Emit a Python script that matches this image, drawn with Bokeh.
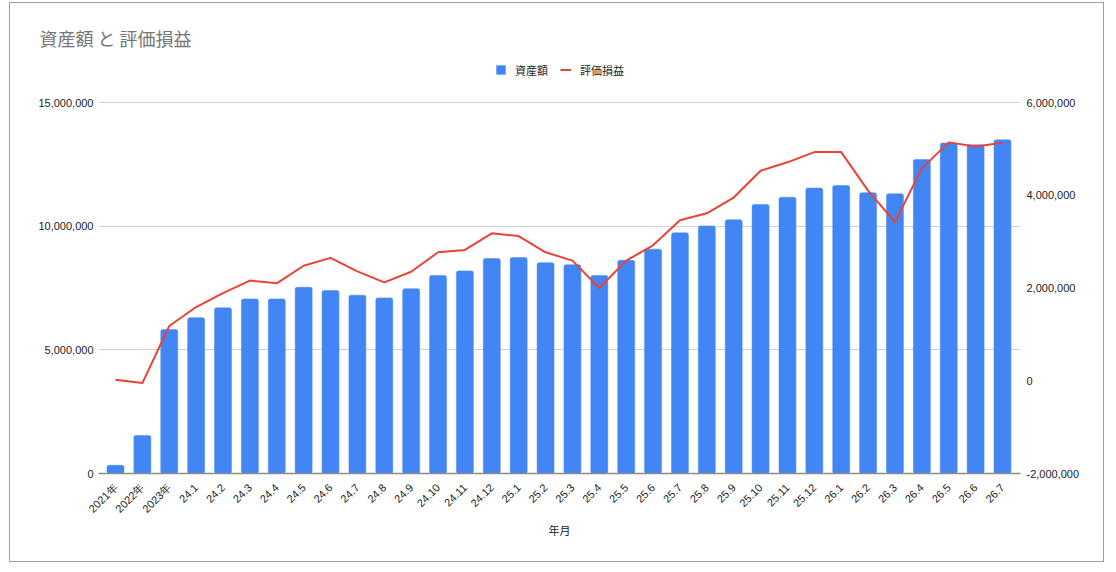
import math
from bokeh.plotting import figure
from bokeh.models import (Range1d, LinearAxis, FixedTicker, NumeralTickFormatter,
                          Legend, LegendItem, ColumnDataSource)
from bokeh.embed import file_html
from bokeh.resources import INLINE

categories = ["2021年", "2022年", "2023年",
              "24.1", "24.2", "24.3", "24.4", "24.5", "24.6", "24.7", "24.8", "24.9", "24.10", "24.11", "24.12",
              "25.1", "25.2", "25.3", "25.4", "25.5", "25.6", "25.7", "25.8", "25.9", "25.10", "25.11", "25.12",
              "26.1", "26.2", "26.3", "26.4", "26.5", "26.6", "26.7"]

assets = [330000, 1540000, 5820000,
          6300000, 6700000, 7060000, 7060000, 7530000, 7400000, 7210000, 7100000, 7470000, 8010000, 8190000, 8690000,
          8730000, 8520000, 8440000, 8010000, 8620000, 9070000, 9730000, 10010000, 10260000, 10880000, 11170000, 11540000,
          11640000, 11350000, 11310000, 12700000, 13360000, 13290000, 13490000]

pnl = [20000, -50000, 1180000,
       1590000, 1890000, 2160000, 2100000, 2480000, 2650000, 2360000, 2120000, 2350000, 2770000, 2820000, 3180000,
       3120000, 2770000, 2590000, 2000000, 2590000, 2920000, 3460000, 3610000, 3950000, 4530000, 4710000, 4930000,
       4930000, 4100000, 3420000, 4580000, 5140000, 5050000, 5130000]

left_ticks = [0, 5000000, 10000000, 15000000]
right_ticks = [-2000000, 0, 2000000, 4000000, 6000000]

title_text = "資産額 と 評価損益"
x_label = "年月"
series_names = ["資産額", "評価損益"]

TICK_FONT = "Liberation Sans"
CJK_FONT = "Noto Sans CJK JP"

# layout (pixels): the plotted axis span is 371px tall; the frame extends
# 46px higher so the legend can sit inside it without being clipped
AXIS_PX = 371.0
HEAD_PX = 46.0
stretch = (AXIS_PX + HEAD_PX) / AXIS_PX

xs = list(range(len(categories)))
source = ColumnDataSource(dict(x=xs, cat=categories, assets=assets, pnl=pnl))

l0, l1 = left_ticks[0], left_ticks[-1]
r0, r1 = right_ticks[0], right_ticks[-1]

p = figure(width=1095, height=560,
           x_range=Range1d(-0.632, len(categories) - 1 + 0.67),
           y_range=Range1d(l0, l0 + (l1 - l0) * stretch),
           output_backend="svg", toolbar_location=None,
           min_border_left=88, min_border_right=85,
           min_border_top=53, min_border_bottom=90,
           margin=(2, 0, 0, 9),
           title=title_text,
           styles={"border": "1px solid #9e9e9e"})
p.outline_line_color = None
p.background_fill_color = "white"
p.border_fill_color = "white"

p.title.align = "left"
p.title.offset = -59
p.title.standoff = 11
p.title.text_font = CJK_FONT
p.title.text_font_size = "18px"
p.title.text_font_style = "normal"
p.title.text_color = "#757575"

p.extra_y_ranges = {"pnl": Range1d(r0, r0 + (r1 - r0) * stretch)}

# grid
p.xgrid.visible = False
p.ygrid.ticker = FixedTicker(ticks=left_ticks)
p.ygrid.grid_line_color = "#d0d0d0"
p.ygrid.grid_line_width = 1

# left axis
ly = p.yaxis[0]
ly.ticker = FixedTicker(ticks=left_ticks)
ly.formatter = NumeralTickFormatter(format="0,0")
ly.axis_line_color = None
ly.major_tick_line_color = None
ly.minor_tick_line_color = None
ly.major_tick_out = 0
ly.major_tick_in = 0
ly.minor_tick_out = 0
ly.major_label_text_font = TICK_FONT
ly.major_label_text_font_size = "11px"
ly.major_label_text_color = "#222222"
ly.major_label_standoff = 5

# right axis
ry = LinearAxis(y_range_name="pnl", ticker=FixedTicker(ticks=right_ticks),
                formatter=NumeralTickFormatter(format="0,0"))
ry.axis_line_color = None
ry.major_tick_line_color = None
ry.minor_tick_line_color = None
ry.major_tick_out = 0
ry.major_tick_in = 0
ry.minor_tick_out = 0
ry.major_label_text_font = TICK_FONT
ry.major_label_text_font_size = "11px"
ry.major_label_text_color = "#222222"
ry.major_label_standoff = 6
p.add_layout(ry, "right")

# x axis
xa = p.xaxis[0]
xa.ticker = FixedTicker(ticks=xs)
xa.major_label_overrides = {i: c for i, c in enumerate(categories)}
xa.major_label_orientation = math.pi / 4
xa.major_label_text_font = TICK_FONT
xa.major_label_text_font_size = "11px"
xa.major_label_text_color = "#222222"
xa.major_tick_out = 0
xa.major_tick_in = 0
xa.minor_tick_out = 0
xa.major_label_standoff = 12
xa.major_tick_line_color = None
xa.minor_tick_line_color = None
xa.axis_line_color = "#8a8a8a"
xa.axis_line_width = 1.5
xa.axis_label = x_label
xa.axis_label_text_font = CJK_FONT
xa.axis_label_text_font_size = "11px"
xa.axis_label_text_font_style = "normal"
xa.axis_label_text_color = "#222222"
xa.axis_label_standoff = 0

bars = p.vbar(x="x", top="assets", width=0.63, bottom=0, source=source,
              fill_color="#4285F4", line_color="#4285F4", line_width=0.5,
              border_radius=2)
line = p.line(x="x", y="pnl", y_range_name="pnl", source=source,
              line_color="#EA4335", line_width=2, line_join="round")

legend = Legend(items=[LegendItem(label=series_names[0], renderers=[bars]),
                       LegendItem(label=series_names[1], renderers=[line])],
                orientation="horizontal", location=(397, 395.5),
                glyph_width=11, glyph_height=11, label_height=11,
                label_standoff=9, spacing=12, padding=0, margin=0,
                border_line_color=None, background_fill_alpha=0,
                label_text_font=CJK_FONT, label_text_font_size="11px",
                label_text_color="#222222")
p.add_layout(legend, "center")

open("out.html", "w").write(file_html(p, INLINE))
